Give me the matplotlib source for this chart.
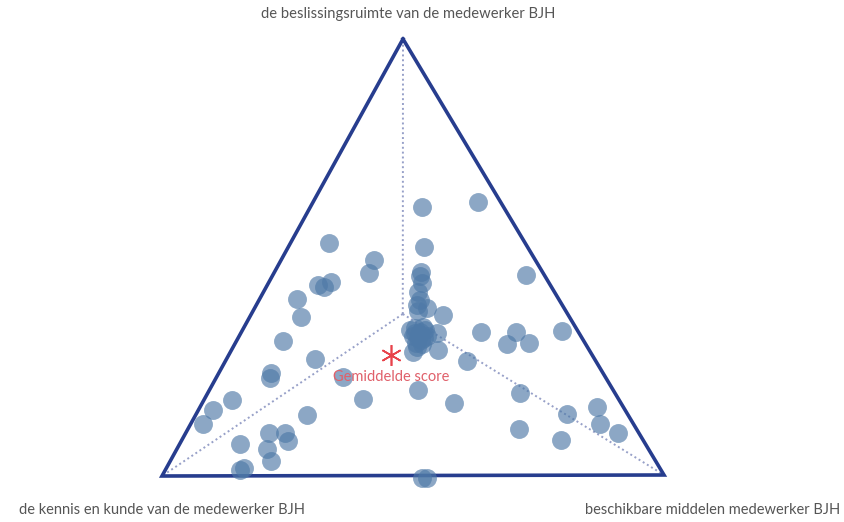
import matplotlib
matplotlib.use("Agg")
import matplotlib.pyplot as plt
import numpy as np

# Ternary scores per respondent (shares of the three dimensions)
beslissingsruimte = [0.533, 0.494, 0.464, 0.436, 0.432, 0.443, 0.404, 0.363, 0.308, 0.267,
                     0.235, 0.223, 0.226, 0.175, 0.173, 0.152, 0.120, 0.139, 0.097, 0.097,
                     0.079, 0.074, 0.061, 0.033, 0.013, 0.019, 0.615, 0.627, 0.523, 0.466,
                     0.457, 0.441, 0.420, 0.402, 0.391, 0.384, 0.377, 0.368, 0.338, 0.329,
                     0.333, 0.320, 0.315, 0.315, 0.320, 0.326, 0.304, 0.301, 0.283, 0.288,
                     0.333, 0.262, 0.329, 0.329, 0.301, 0.304, 0.331, 0.459, 0.196, 0.166,
                     0.189, 0.141, 0.157, 0.118, 0.097, 0.107, 0.081, -0.006, -0.006,
                     0.324, 0.310, 0.326, 0.340, 0.294]
kennis_kunde = [0.390, 0.321, 0.346, 0.463, 0.453, 0.433, 0.521, 0.534, 0.599, 0.556,
                0.661, 0.669, 0.522, 0.509, 0.771, 0.820, 0.856, 0.639, 0.737, 0.705,
                0.708, 0.806, 0.759, 0.766, 0.838, 0.827, 0.162, 0.044, 0.206, 0.242,
                0.249, 0.253, 0.272, 0.277, 0.289, 0.272, 0.294, 0.249, 0.320, 0.315,
                0.303, 0.333, 0.326, 0.314, 0.305, 0.283, 0.336, 0.326, 0.353, 0.300,
                0.333, 0.256, 0.193, 0.124, 0.156, 0.111, 0.031, 0.036, 0.388, 0.332,
                0.188, 0.120, 0.052, 0.066, 0.041, 0.233, 0.163, 0.485, 0.475,
                0.320, 0.323, 0.327, 0.303, 0.339]
middelen = [0.077, 0.185, 0.190, 0.101, 0.115, 0.124, 0.075, 0.103, 0.093, 0.177,
            0.104, 0.108, 0.252, 0.316, 0.056, 0.028, 0.024, 0.222, 0.166, 0.198,
            0.213, 0.120, 0.180, 0.201, 0.149, 0.154, 0.223, 0.329, 0.271, 0.292,
            0.294, 0.306, 0.308, 0.321, 0.320, 0.344, 0.329, 0.383, 0.342, 0.356,
            0.364, 0.347, 0.359, 0.371, 0.375, 0.391, 0.360, 0.373, 0.364, 0.412,
            0.334, 0.482, 0.478, 0.547, 0.543, 0.585, 0.638, 0.505, 0.416, 0.502,
            0.623, 0.739, 0.791, 0.816, 0.862, 0.660, 0.756, 0.521, 0.531,
            0.356, 0.367, 0.347, 0.357, 0.367]

gemiddelde = (0.276, 0.400, 0.324)   # (beslissingsruimte, kennis, middelen)
referentie = (0.370, 0.328, 0.302)   # meeting point of the dotted guide lines

as_labels = ["de beslissingsruimte van de medewerker BJH",
             "de kennis en kunde van de medewerker BJH",
             "beschikbare middelen medewerker BJH"]
gem_label = "Gemiddelde score"

# ---- layout (figure pixel frame) ----
W, H = 844, 522
V_top = np.array([403.0, 39.0])
V_left = np.array([162.0, 476.0])
V_right = np.array([664.0, 475.0])


def tern(a, b, c):
    a, b, c = np.asarray(a), np.asarray(b), np.asarray(c)
    s = a + b + c
    a, b, c = a / s, b / s, c / s
    x = a * V_top[0] + b * V_left[0] + c * V_right[0]
    y = a * V_top[1] + b * V_left[1] + c * V_right[1]
    return x, y


fig = plt.figure(figsize=(W / 100, H / 100), dpi=100)
ax = fig.add_axes([0, 0, 1, 1])
ax.set_xlim(0, W)
ax.set_ylim(H, 0)
ax.axis("off")

# dotted guide lines
rx, ry = tern(*referentie)
for V in (V_top, V_left, V_right):
    ax.plot([rx, V[0]], [ry, V[1]], linestyle=(0, (1, 1.5)), color="#97a0c8",
            lw=1.4, zorder=1)

# triangle
tri = np.array([V_top, V_right, V_left, V_top])
ax.plot(tri[:, 0], tri[:, 1], color="#273d8e", lw=2.6, solid_joinstyle="miter",
        zorder=2)

# points
px, py = tern(beslissingsruimte, kennis_kunde, middelen)
ax.scatter(px, py, s=185, color="#4e79a7", alpha=0.65, linewidths=0, zorder=3)

# average
gx, gy = tern(*gemiddelde)
ax.plot([gx], [gy], marker=(6, 2, 0), markersize=15, color="#e8434b",
        markeredgewidth=1.2, zorder=4)
ax.text(gx, gy + 22, gem_label, ha="center", va="center", fontsize=10.5,
        color="#e0606a", family="Lato", zorder=4)

# axis labels
ax.text(408, 14, as_labels[0], ha="center", va="center", fontsize=10.6,
        color="#555555", family="Lato")
ax.text(162, 510, as_labels[1], ha="center", va="center", fontsize=10.5,
        color="#555555", family="Lato")
ax.text(840, 510, as_labels[2], ha="right", va="center", fontsize=10.5,
        color="#555555", family="Lato")

fig.savefig("out.png", dpi=100)
